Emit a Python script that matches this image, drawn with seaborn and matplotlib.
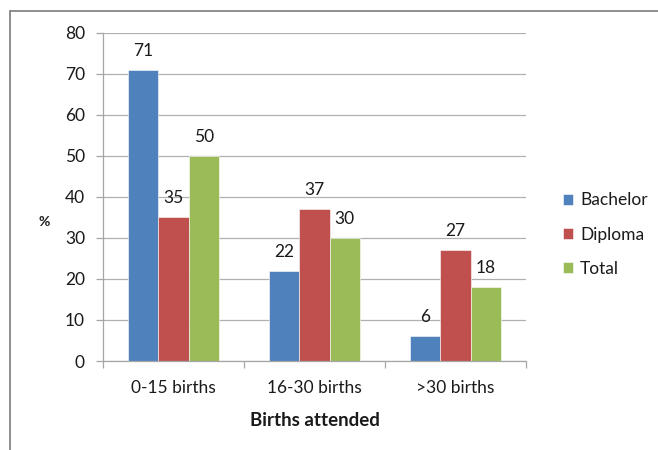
import matplotlib
matplotlib.use("Agg")
import matplotlib.pyplot as plt
from matplotlib.lines import Line2D
from matplotlib.ticker import FixedLocator, MultipleLocator
import seaborn as sns
import pandas as pd

categories = ["0-15 births", "16-30 births", ">30 births"]
groups = ["Bachelor", "Diploma", "Total"]
bachelor = [71, 22, 6]
diploma = [35, 37, 27]
total = [50, 30, 18]
colors = ["#4F81BD", "#C0504D", "#9BBB59"]

rows = []
for g, vals in zip(groups, [bachelor, diploma, total]):
    for c, v in zip(categories, vals):
        rows.append({"Births attended": c, "group": g, "value": v})
df = pd.DataFrame(rows)

sns.set_theme(style="white")
plt.rcParams["font.family"] = ["Lato", "DejaVu Sans"]

fig = plt.figure(figsize=(6.58, 4.5), dpi=100)
ax = fig.add_axes([103 / 658, 1 - 361 / 450, (526 - 103) / 658, (361 - 33) / 450])

sns.barplot(data=df, x="Births attended", y="value", hue="group",
            hue_order=groups, palette=colors, width=0.645, ax=ax,
            edgecolor="white", linewidth=0.4, errorbar=None, saturation=1)

for cont in ax.containers:
    ax.bar_label(cont, fmt="%d", padding=8, fontsize=12.5, color="#1a1a1a")

ax.set_ylim(0, 80)
ax.set_xlim(-0.5, 2.5)
ax.yaxis.set_major_locator(MultipleLocator(10))
ax.grid(axis="y", color="#b0b0b0", linewidth=0.9)
ax.set_axisbelow(True)

for s in ["top", "right"]:
    ax.spines[s].set_visible(False)
for s in ["left", "bottom"]:
    ax.spines[s].set_color("#a6a6a6")
    ax.spines[s].set_linewidth(0.9)

ax.tick_params(axis="y", which="major", direction="out", length=5, width=0.9,
               color="#a6a6a6", labelsize=12.5, labelcolor="#1a1a1a", pad=8, left=True)
ax.tick_params(axis="x", which="major", length=0, labelsize=12.5,
               labelcolor="#1a1a1a", pad=14)
ax.xaxis.set_minor_locator(FixedLocator([-0.5, 0.5, 1.5, 2.5]))
ax.tick_params(axis="x", which="minor", direction="out", length=5, width=0.9,
               color="#a6a6a6", bottom=True)

ax.set_xlabel("Births attended", fontsize=13.5, fontweight="bold",
              color="#1a1a1a", labelpad=11)
ax.set_ylabel("%", fontsize=10, fontweight="bold", rotation=0,
              color="#1a1a1a", labelpad=0)
ax.yaxis.set_label_coords(-0.14, 0.405)

handles, labels = ax.get_legend_handles_labels()
ax.legend(handles, labels, loc="center left", bbox_to_anchor=(1.05, 0.385),
          frameon=False, fontsize=12.5, handlelength=0.6, handleheight=0.6,
          handletextpad=0.4, labelspacing=1.05, labelcolor="#1a1a1a")

# chart-area border
fig.add_artist(Line2D([9.5 / 658, 9.5 / 658], [0, 1 - 11 / 450],
                      transform=fig.transFigure, color="#868686", linewidth=1.3))
fig.add_artist(Line2D([9.5 / 658, 1], [1 - 11 / 450, 1 - 11 / 450],
                      transform=fig.transFigure, color="#868686", linewidth=1.3))

fig.savefig("out.png", dpi=100)
